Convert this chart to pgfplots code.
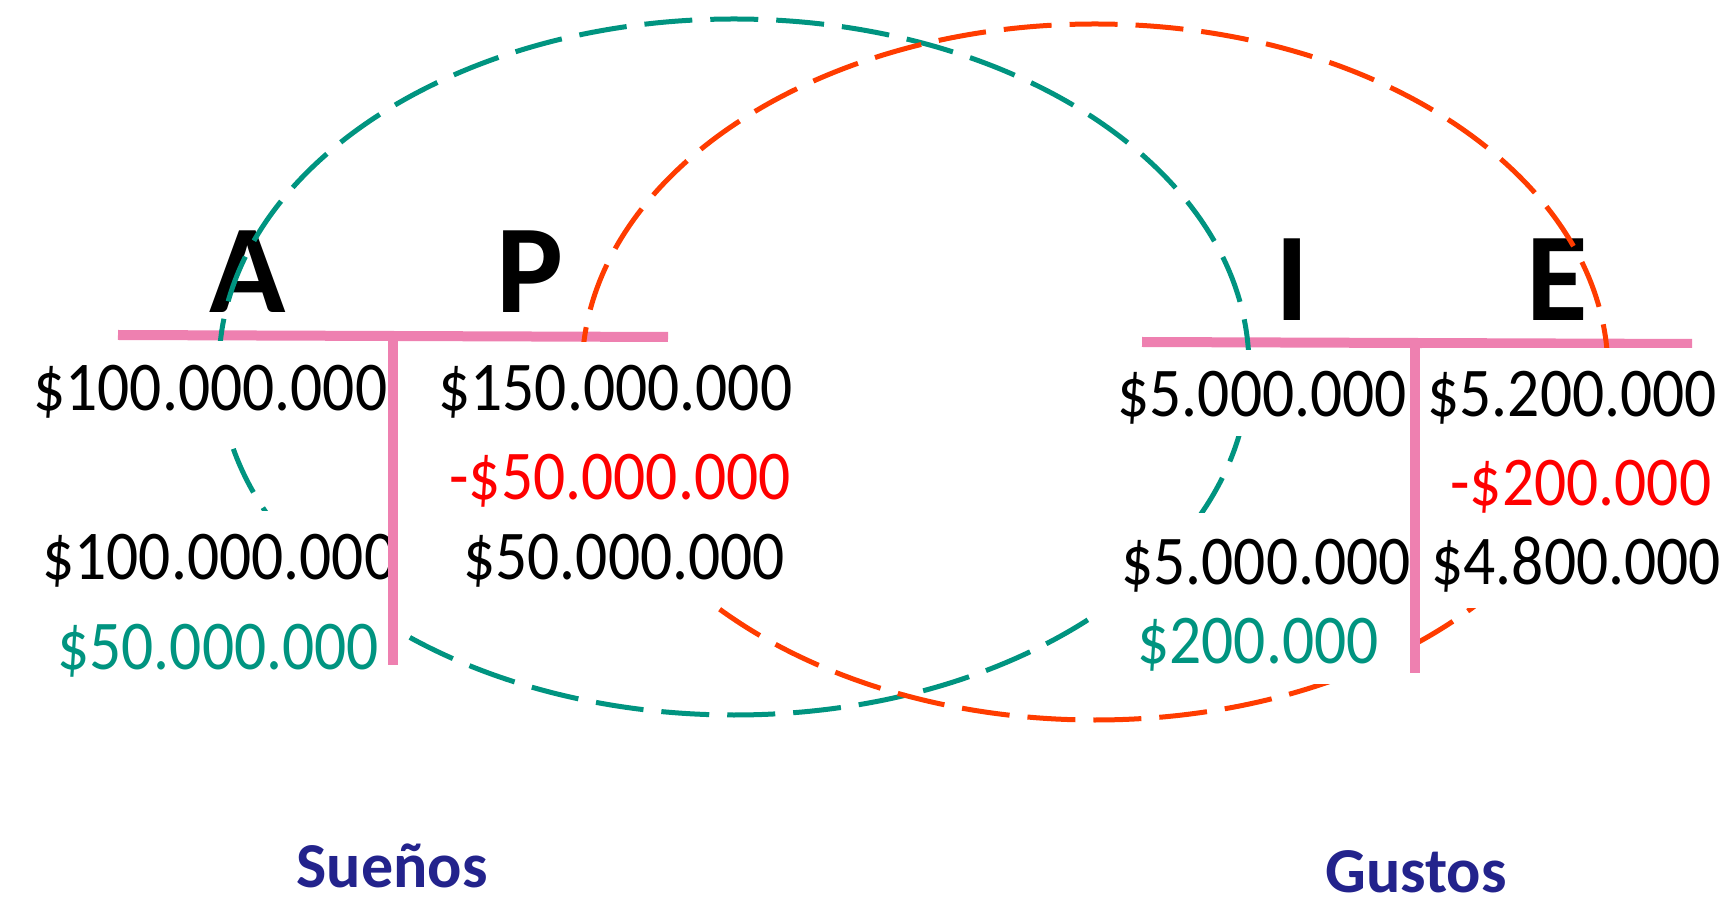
\documentclass[border=0pt]{standalone}
\usepackage{fontspec}
\setmainfont{Carlito}
\usepackage{graphicx}
\usepackage{pgfplots}
\pgfplotsset{compat=1.18}
\definecolor{tealC}{RGB}{0,148,128}
\definecolor{orangeC}{RGB}{255,60,0}
\definecolor{redC}{RGB}{255,0,0}
\definecolor{pinkC}{RGB}{238,128,176}
\definecolor{blueC}{RGB}{35,35,140}
\tikzset{numtxt/.style={inner xsep=0pt, inner ysep=3pt, anchor=base west}}
\newcommand{\myNum}[1]{{\fontsize{31.75pt}{36pt}\selectfont\scalebox{1}[1.1]{#1}}}
\newcommand{\myLetter}[1]{{\fontsize{63pt}{70pt}\selectfont\bfseries #1}}
\newcommand{\myLab}[1]{{\fontsize{32pt}{36pt}\selectfont\bfseries #1}}
\begin{document}
\begin{tikzpicture}
\begin{axis}[
  width=864.5pt, height=454pt, scale only axis,
  xmin=0, xmax=1729, ymin=0, ymax=908, y dir=reverse,
  hide axis, clip=false,
]
\path (axis cs:0,0) rectangle (axis cs:1729,908);
% Letters
\node[anchor=base] at (axis cs:248,313) {\myLetter{A}};
\node[anchor=base] at (axis cs:530,313) {\myLetter{P}};
\node[anchor=base] at (axis cs:1292,321) {\myLetter{I}};
\node[anchor=base] at (axis cs:1557,321) {\myLetter{E}};
% horizontal bars of the T accounts
\addplot[pinkC, line width=5pt, line cap=butt] coordinates {(118,335) (668,337)};
\addplot[pinkC, line width=5pt, line cap=butt] coordinates {(1142,342) (1692,344)};
% ellipses
\draw[tealC, line width=2.5pt, dash pattern=on 24pt off 9pt] (axis cs:734,367) ellipse [x radius=257.5pt, y radius=174pt];
\draw[orangeC, line width=2.5pt, dash pattern=on 24pt off 9pt] (axis cs:1095,372) ellipse [x radius=256.5pt, y radius=174pt];
% white text boxes
\fill[white] (axis cs:30,341) rectangle (axis cs:390,436);
\fill[white] (axis cs:39,511) rectangle (axis cs:391,684);
\fill[white] (axis cs:436,342) rectangle (axis cs:794,601);
\fill[white] (axis cs:1114,350) rectangle (axis cs:1409,436);
\fill[white] (axis cs:1096,513) rectangle (axis cs:1409,684);
\fill[white] (axis cs:1422,348) rectangle (axis cs:1722,608);
% left T account
\node[numtxt] at (axis cs:33,411) {\myNum{\$100.000.000}};
\node[numtxt] at (axis cs:438,411) {\myNum{\$150.000.000}};
\node[numtxt, text=redC] at (axis cs:449,500) {\myNum{-\$50.000.000}};
\node[numtxt] at (axis cs:42,580) {\myNum{\$100.000.000}};
\node[numtxt] at (axis cs:463,580) {\myNum{\$50.000.000}};
\node[numtxt, text=tealC] at (axis cs:57,669) {\myNum{\$50.000.000}};
% right T account
\node[numtxt] at (axis cs:1117,417) {\myNum{\$5.000.000}};
\node[numtxt] at (axis cs:1427,417) {\myNum{\$5.200.000}};
\node[numtxt, text=redC] at (axis cs:1450,506) {\myNum{-\$200.000}};
\node[numtxt] at (axis cs:1121,585) {\myNum{\$5.000.000}};
\node[numtxt] at (axis cs:1431,585) {\myNum{\$4.800.000}};
\node[numtxt, text=tealC] at (axis cs:1137,663) {\myNum{\$200.000}};
% vertical bars
\addplot[pinkC, line width=5pt, line cap=butt] coordinates {(393,335) (393,665)};
\addplot[pinkC, line width=5pt, line cap=butt] coordinates {(1415,342) (1415,673)};
% labels
\node[anchor=base, text=blueC] at (axis cs:392,887) {\myLab{Sueños}};
\node[anchor=base, text=blueC] at (axis cs:1416,892) {\myLab{Gustos}};
\end{axis}
\end{tikzpicture}
\end{document}
